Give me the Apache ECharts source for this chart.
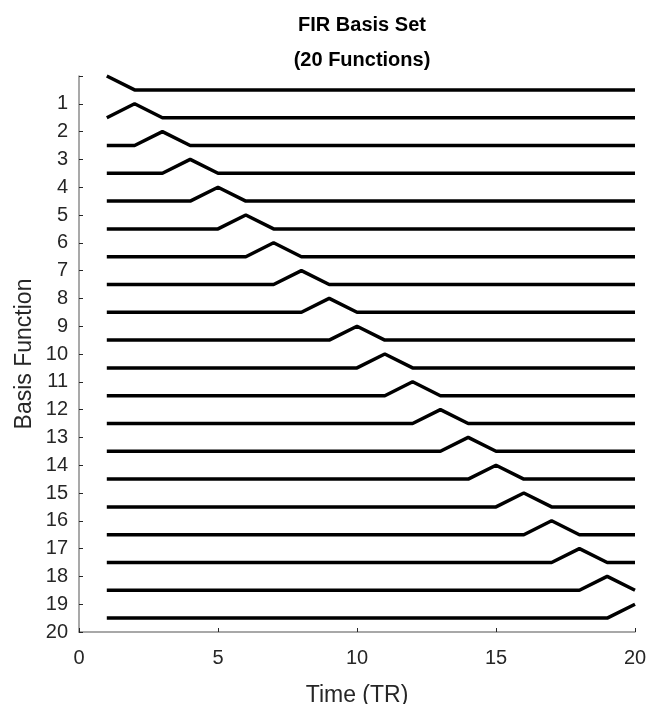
<!DOCTYPE html>
<html>
<head>
<meta charset="utf-8">
<style>
  html, body { margin: 0; padding: 0; background: #fff; }
  #chart { width: 648px; height: 704px; }
</style>
<script src="https://cdn.jsdelivr.net/npm/echarts@6/dist/echarts.min.js"></script>
</head>
<body>
<div id="chart"></div>
<script>
// time points (TR)
const times = [1, 2, 3, 4, 5, 6, 7, 8, 9, 10, 11, 12, 13, 14, 15, 16, 17, 18, 19, 20]
// time at which each basis function is "on"
const peakTimes = [1, 2, 3, 4, 5, 6, 7, 8, 9, 10, 11, 12, 13, 14, 15, 16, 17, 18, 19, 20]
// vertical level of each function when off / when on
const baselines = [0.5, 1.5, 2.5, 3.5, 4.5, 5.5, 6.5, 7.5, 8.5, 9.5, 10.5, 11.5, 12.5, 13.5, 14.5, 15.5, 16.5, 17.5, 18.5, 19.5]
const peakLevels = [0, 1, 2, 3, 4, 5, 6, 7, 8, 9, 10, 11, 12, 13, 14, 15, 16, 17, 18, 19]
const xTicks = [0, 5, 10, 15, 20]
const yTickLabels = ['', '1', '2', '3', '4', '5', '6', '7', '8', '9', '10', '11', '12', '13', '14', '15', '16', '17', '18', '19', '20']

const chart = echarts.init(document.getElementById('chart'))

const textColor = '#262626'
const axisColor = '#8c8c8c'

const series = peakTimes.map((pt, i) => ({
  type: 'line',
  data: times.map(t => [t, t === pt ? peakLevels[i] : baselines[i]]),
  symbol: 'none',
  clip: false,
  lineStyle: { color: '#000', width: 3.5 },
  silent: true
}))

chart.setOption({
  animation: false,
  title: {
    text: 'FIR Basis Set\n(20 Functions)',
    left: 357,
    top: 3,
    textAlign: 'center',
    textStyle: {
      fontFamily: 'Liberation Sans',
      fontSize: 20,
      fontWeight: 'bold',
      color: '#000',
      lineHeight: 35
    }
  },
  grid: { left: 79, right: 13, top: 76, bottom: 72, outerBoundsMode: 'none' },
  xAxis: {
    type: 'value',
    min: 0,
    max: 20,
    interval: 5,
    name: 'Time (TR)',
    nameLocation: 'middle',
    nameGap: 52,
    nameMoveOverlap: false,
    nameTextStyle: { fontFamily: 'Liberation Sans', fontSize: 23, color: textColor },
    axisLine: { onZero: false, lineStyle: { color: axisColor, width: 1.5 } },
    axisTick: { inside: true, length: 4, lineStyle: { color: textColor } },
    axisLabel: {
      fontFamily: 'Liberation Sans',
      fontSize: 20,
      color: textColor,
      margin: 16,
      formatter: v => (xTicks.includes(v) ? String(v) : '')
    },
    splitLine: { show: false }
  },
  yAxis: {
    type: 'value',
    inverse: true,
    min: 0,
    max: 20,
    interval: 1,
    name: 'Basis Function',
    nameLocation: 'middle',
    nameGap: 43,
    nameMoveOverlap: false,
    nameTextStyle: { fontFamily: 'Liberation Sans', fontSize: 23, color: textColor },
    axisLine: { onZero: false, lineStyle: { color: axisColor, width: 1.5 } },
    axisTick: { inside: true, length: 4, lineStyle: { color: textColor } },
    axisLabel: {
      fontFamily: 'Liberation Sans',
      fontSize: 20,
      color: textColor,
      margin: 11,
      formatter: v => yTickLabels[v] || ''
    },
    splitLine: { show: false }
  },
  series: series
})
</script>
</body>
</html>
